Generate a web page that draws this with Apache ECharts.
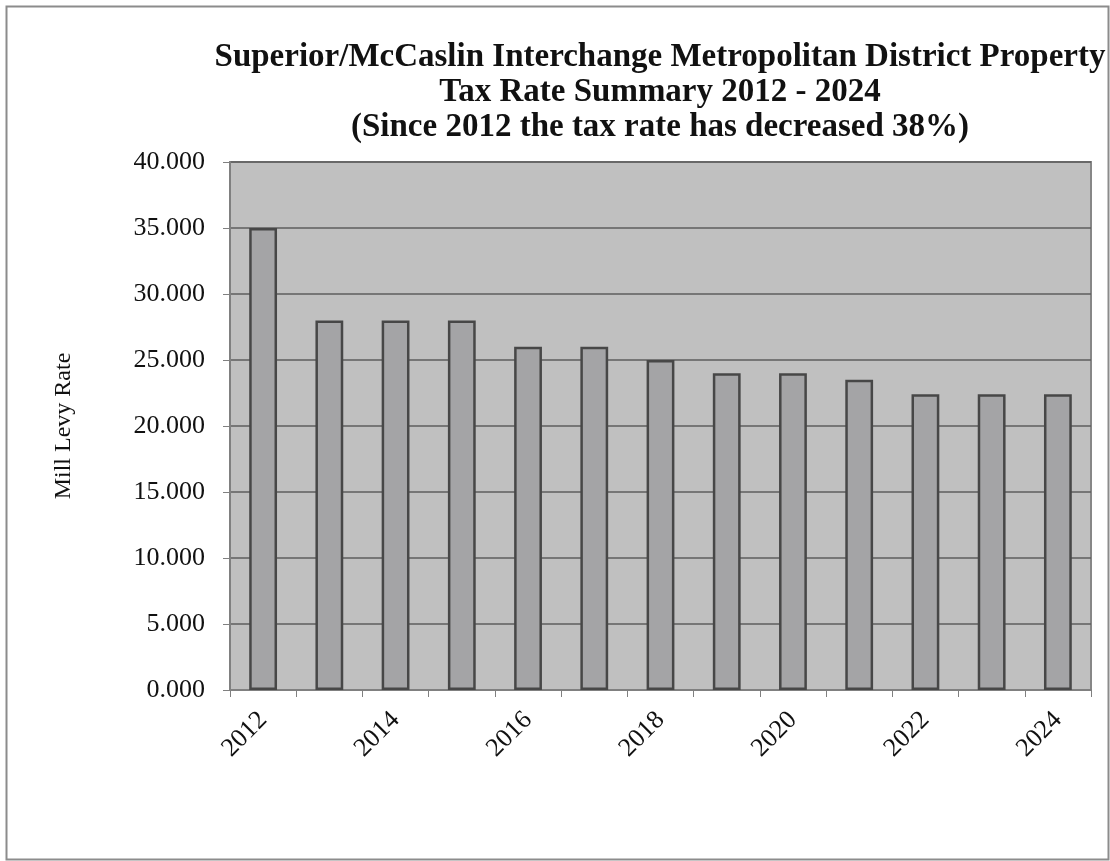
<!DOCTYPE html>
<html>
<head>
<meta charset="utf-8">
<script src="https://cdn.jsdelivr.net/npm/echarts@6/dist/echarts.min.js"></script>
<style>
html,body{margin:0;padding:0;background:#fff;}
#chart{width:1110px;height:861px;}
</style>
</head>
<body>
<div id="chart"></div>
<script>
var years = ['2012','2013','2014','2015','2016','2017','2018','2019','2020','2021','2022','2023','2024'];
var millLevy = [35.0, 28.0, 28.0, 28.0, 26.0, 26.0, 25.0, 24.0, 24.0, 23.5, 22.4, 22.4, 22.4];
var titleLines = [
  'Superior/McCaslin Interchange Metropolitan District Property',
  'Tax Rate Summary 2012 - 2024',
  '(Since 2012 the tax rate has decreased 38%)'
];
var yAxisName = 'Mill Levy Rate';

var serif = '"Liberation Serif", "Times New Roman", serif';
var chart = echarts.init(document.getElementById('chart'), null, {renderer: 'canvas'});
chart.setOption({
  backgroundColor: '#ffffff',
  animation: false,
  graphic: [
    {
      type: 'rect', left: 4, top: 4, z: -10,
      shape: {x: 0, y: 0, width: 1102, height: 853},
      style: {fill: 'none', stroke: '#8c8c8c', lineWidth: 2}
    },
    {
      type: 'text', x: 660, y: 40,
      style: {
        text: titleLines.join('\n'),
        font: 'bold 33px ' + serif,
        lineHeight: 35,
        fill: '#111',
        align: 'center',
        verticalAlign: 'top'
      }
    }
  ],
  grid: {
    left: 230, right: 19, top: 162, bottom: 171,
    show: true, backgroundColor: '#c0c0c0', borderColor: '#878787', borderWidth: 2
  },
  xAxis: {
    type: 'category',
    data: years,
    boundaryGap: true,
    axisLine: {show: true, lineStyle: {color: '#808080', width: 2}},
    axisTick: {show: true, interval: 0, length: 7, inside: false, lineStyle: {color: '#808080', width: 1}},
    axisLabel: {
      interval: 1, rotate: 45, margin: 26,
      fontFamily: serif, fontSize: 26, color: '#111'
    },
    splitLine: {show: false}
  },
  yAxis: {
    type: 'value',
    min: 0, max: 40, interval: 5,
    name: yAxisName,
    nameLocation: 'middle',
    nameGap: 154,
    nameRotate: 90,
    nameTextStyle: {fontFamily: serif, fontSize: 24, color: '#111'},
    axisLine: {show: true, lineStyle: {color: '#808080', width: 2}},
    axisTick: {show: true, length: 7, lineStyle: {color: '#808080', width: 1}},
    axisLabel: {
      margin: 25,
      fontFamily: serif, fontSize: 26, color: '#111',
      formatter: function (v) { return v.toFixed(3); }
    },
    splitLine: {show: true, lineStyle: {color: '#5e5e5e', width: 1.5}}
  },
  series: [{
    type: 'bar',
    data: millLevy,
    barWidth: '42%',
    itemStyle: {color: '#a4a4a6', borderColor: '#474747', borderWidth: 2.5}
  }]
});
</script>
</body>
</html>
